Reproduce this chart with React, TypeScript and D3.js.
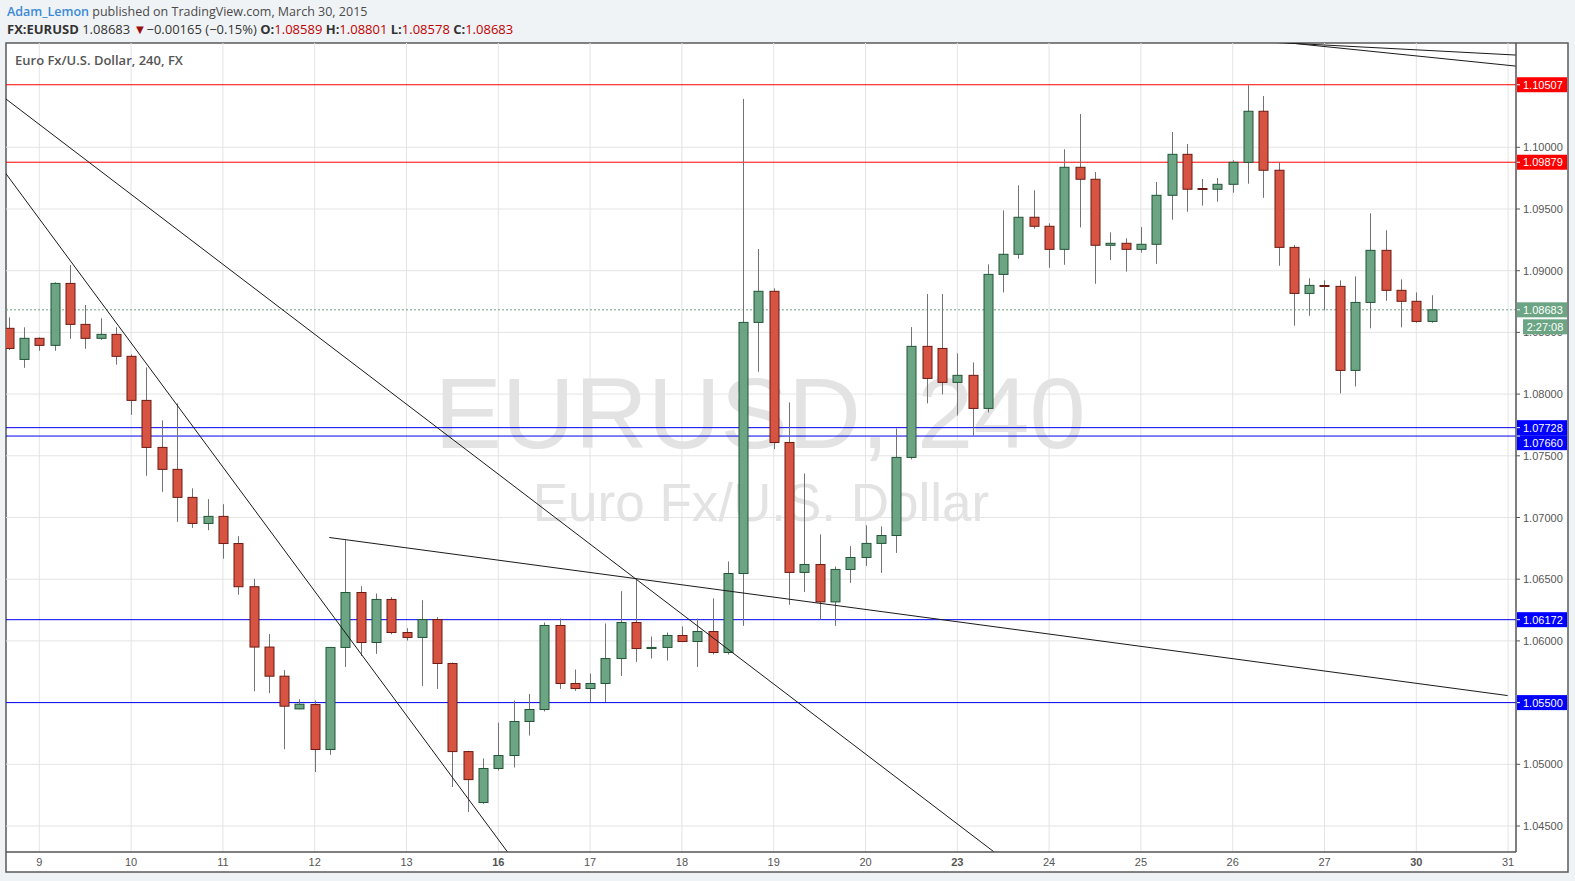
import React from 'react';
import * as d3 from 'd3';

// ---------- data ----------
const dayLabels = ['9', '10', '11', '12', '13', '16', '17', '18', '19', '20', '23', '24', '25', '26', '27', '30', '31'];
const weekStartLabels = ['16', '23', '30'];
const firstDayBar = 2;
const barsPerDay = 6;

const opens = [
  1.08533, 1.08281, 1.08452, 1.08395, 1.08897, 1.08565, 1.08452, 1.08484, 1.08306, 1.07949,
  1.07568, 1.07390, 1.07163, 1.06952, 1.07009, 1.06789, 1.06439, 1.05950, 1.05714, 1.05449,
  1.05484, 1.05120, 1.05947, 1.06392, 1.05987, 1.06336, 1.06068, 1.06028, 1.06173, 1.05817,
  1.05103, 1.04690, 1.04966, 1.05071, 1.05347, 1.05444, 1.06125, 1.05655, 1.05614, 1.05655,
  1.05857, 1.06149, 1.05938, 1.05947, 1.06044, 1.05995, 1.06076, 1.05906, 1.06546, 1.08581,
  1.08833, 1.07608, 1.06555, 1.06619, 1.06316, 1.06579, 1.06676, 1.06790, 1.06854, 1.07487,
  1.08387, 1.08370, 1.08095, 1.08152, 1.07884, 1.08970, 1.09133, 1.09433, 1.09360, 1.09173,
  1.09838, 1.09741, 1.09206, 1.09222, 1.09173, 1.09214, 1.09611, 1.09943, 1.09666, 1.09660,
  1.09700, 1.09878, 1.10292, 1.09814, 1.09189, 1.08816, 1.08880, 1.08873, 1.08192, 1.08743,
  1.09165, 1.08841, 1.08752, 1.08589,
];
const highs = [
  1.08622, 1.08541, 1.08460, 1.08906, 1.09046, 1.08722, 1.08614, 1.08541, 1.08322, 1.08216,
  1.07787, 1.07925, 1.07236, 1.07149, 1.07108, 1.06849, 1.06503, 1.06056, 1.05763, 1.05527,
  1.05517, 1.05951, 1.06816, 1.06443, 1.06384, 1.06354, 1.06103, 1.06330, 1.06192, 1.05825,
  1.05110, 1.05047, 1.05338, 1.05517, 1.05570, 1.06149, 1.06182, 1.05768, 1.05736, 1.06141,
  1.06403, 1.06506, 1.06036, 1.06068, 1.06117, 1.06182, 1.06344, 1.06644, 1.10392, 1.09176,
  1.08857, 1.07933, 1.07357, 1.06863, 1.06603, 1.06768, 1.06936, 1.06927, 1.07722, 1.08543,
  1.08811, 1.08811, 1.08330, 1.08257, 1.09051, 1.09489, 1.09692, 1.09651, 1.09384, 1.09984,
  1.10270, 1.09800, 1.09311, 1.09262, 1.09354, 1.09719, 1.10124, 1.10027, 1.09743, 1.09751,
  1.09895, 1.10503, 1.10416, 1.09878, 1.09208, 1.08938, 1.08922, 1.08922, 1.08954, 1.09465,
  1.09327, 1.08930, 1.08824, 1.08801,
];
const lows = [
  1.08357, 1.08213, 1.08351, 1.08351, 1.08448, 1.08367, 1.08440, 1.08238, 1.07832, 1.07338,
  1.07208, 1.06965, 1.06916, 1.06897, 1.06666, 1.06374, 1.05592, 1.05576, 1.05122, 1.05446,
  1.04938, 1.05076, 1.05789, 1.05878, 1.05895, 1.06054, 1.06003, 1.05635, 1.05611, 1.04816,
  1.04614, 1.04680, 1.04949, 1.04974, 1.05233, 1.05428, 1.05611, 1.05595, 1.05505, 1.05505,
  1.05716, 1.05830, 1.05857, 1.05841, 1.05990, 1.05789, 1.05890, 1.05890, 1.06122, 1.08181,
  1.07554, 1.06292, 1.06397, 1.06173, 1.06122, 1.06470, 1.06608, 1.06551, 1.06713, 1.07471,
  1.07925, 1.07998, 1.07827, 1.07665, 1.07852, 1.08824, 1.09097, 1.09340, 1.09024, 1.09048,
  1.09351, 1.08894, 1.09086, 1.08992, 1.09146, 1.09056, 1.09413, 1.09478, 1.09527, 1.09559,
  1.09632, 1.09705, 1.09591, 1.09040, 1.08554, 1.08635, 1.08679, 1.08006, 1.08062, 1.08533,
  1.08756, 1.08541, 1.08578, 1.08578,
];
const closes = [
  1.08370, 1.08452, 1.08395, 1.08897, 1.08565, 1.08452, 1.08484, 1.08306, 1.07949, 1.07568,
  1.07390, 1.07163, 1.06952, 1.07009, 1.06789, 1.06439, 1.05950, 1.05714, 1.05471, 1.05487,
  1.05120, 1.05947, 1.06392, 1.05987, 1.06336, 1.06068, 1.06028, 1.06173, 1.05817, 1.05103,
  1.04876, 1.04966, 1.05071, 1.05347, 1.05444, 1.06125, 1.05655, 1.05614, 1.05655, 1.05857,
  1.06149, 1.05938, 1.05947, 1.06044, 1.05995, 1.06076, 1.05906, 1.06546, 1.08581, 1.08833,
  1.07608, 1.06555, 1.06619, 1.06316, 1.06579, 1.06676, 1.06790, 1.06854, 1.07487, 1.08387,
  1.08127, 1.08095, 1.08152, 1.07884, 1.08970, 1.09133, 1.09433, 1.09360, 1.09173, 1.09838,
  1.09741, 1.09206, 1.09222, 1.09173, 1.09214, 1.09611, 1.09943, 1.09660, 1.09658, 1.09700,
  1.09878, 1.10292, 1.09814, 1.09189, 1.08816, 1.08881, 1.08872, 1.08192, 1.08743, 1.09165,
  1.08841, 1.08752, 1.08589, 1.08683,
];

const priceTicks = [1.045, 1.05, 1.055, 1.06, 1.065, 1.07, 1.075, 1.08, 1.085, 1.09, 1.095, 1.1];
const redLevels = [1.10507, 1.09879];
const blueLevels = [1.07728, 1.0766, 1.06172, 1.055];
const lastPrice = 1.08683;
const countdown = '2:27:08';

// trend lines as (bar index, price) anchors
const trendFrom = [[-0.09, 1.10383], [3.03, 1.09248], [20.95, 1.06838], [84.4, 1.10837], [85.5, 1.10832]];
const trendTo = [[48.45, 1.05797], [31.02, 1.04555], [97.97, 1.05557], [98.43, 1.10659], [98.43, 1.10748]];
const trendExtend = [true, true, false, true, true];

// ---------- layout ----------
const W = 1575;
const H = 881;
const frame = { left: 6, top: 43, right: 1568, bottom: 872 };
const plot = { left: 6, top: 43, right: 1516, bottom: 852 };

const GREEN = '#6ba583';
const GREEN_EDGE = '#225437';
const RED = '#d75442';
const RED_EDGE = '#6b1b12';
const WICK = '#737375';
const GRID = '#e4e4e4';
const AXIS_TEXT = '#555';
const UI_FONT = "'Open Sans', 'Noto Sans', sans-serif";
const AXIS_FONT = "'Liberation Sans', Arial, sans-serif";

export default function App() {
  const x = d3.scaleLinear().domain([2, 98]).range([39.3, 1508.1]);
  const y = d3.scaleLinear().domain([1.045, 1.1]).range([826, 147.3]);

  const bars = d3.range(opens.length).map((i) => ({
    i,
    o: opens[i],
    h: highs[i],
    l: lows[i],
    c: closes[i],
  }));

  const dayX = dayLabels.map((d, k) => x(firstDayBar + k * barsPerDay));

  // price label boxes with simple collision stacking
  type Lab = { p: number; fill: string; extra?: string; cy?: number };
  const labs: Lab[] = [
    ...redLevels.map((p) => ({ p, fill: '#ff0000' })),
    { p: lastPrice, fill: GREEN, extra: countdown },
    ...blueLevels.map((p) => ({ p, fill: '#0000ff' })),
  ].sort((a, b) => b.p - a.p);
  let prevBottom = -Infinity;
  labs.forEach((l) => {
    let cy = y(l.p);
    if (cy - 7.5 < prevBottom) cy = prevBottom + 7.5;
    l.cy = cy;
    prevBottom = cy + 7.5 + (l.extra ? 16 : 0);
  });

  const trendSegs = trendFrom.map((f, k) => {
    const t = trendTo[k];
    let x1 = x(f[0]);
    let y1 = y(f[1]);
    let x2 = x(t[0]);
    let y2 = y(t[1]);
    if (trendExtend[k]) {
      const m = (y2 - y1) / (x2 - x1);
      const nx1 = plot.left - 5;
      const nx2 = plot.right + 5;
      const ny1 = y1 + m * (nx1 - x1);
      const ny2 = y1 + m * (nx2 - x1);
      x1 = nx1; y1 = ny1; x2 = nx2; y2 = ny2;
    }
    return { x1, y1, x2, y2 };
  });

  const bodyW = 9;

  return (
    <svg
      width={W}
      height={H}
      style={{ position: 'absolute', left: 0, top: 0, display: 'block' }}
      xmlns="http://www.w3.org/2000/svg"
    >
      <defs>
        <clipPath id="plotClip">
          <rect x={plot.left} y={plot.top} width={plot.right - plot.left} height={plot.bottom - plot.top} />
        </clipPath>
      </defs>
      <rect x={0} y={0} width={W} height={H} fill="#f0f3f6" />

      {/* header */}
      <text x={7} y={16} fontFamily={UI_FONT} fontSize={12.5} fill="#4a4a4a">
        <tspan fill="#3a8ad6" fontWeight={600}>Adam_Lemon</tspan>
        <tspan> published on TradingView.com, March 30, 2015</tspan>
      </text>
      <text x={7} y={34} fontFamily={UI_FONT} fontSize={13} fill="#333">
        <tspan fontWeight={700}>FX:EURUSD</tspan>
        <tspan> 1.08683 </tspan>
        <tspan fill="#9b0d0d">▼</tspan>
        <tspan>−0.00165 (−0.15%) </tspan>
        <tspan fontWeight={700}>O:</tspan>
        <tspan fill="#c00000">1.08589 </tspan>
        <tspan fontWeight={700}>H:</tspan>
        <tspan fill="#c00000">1.08801 </tspan>
        <tspan fontWeight={700}>L:</tspan>
        <tspan fill="#c00000">1.08578 </tspan>
        <tspan fontWeight={700}>C:</tspan>
        <tspan fill="#c00000">1.08683</tspan>
      </text>

      {/* frame */}
      <rect
        x={frame.left}
        y={frame.top}
        width={frame.right - frame.left}
        height={frame.bottom - frame.top}
        fill="#ffffff"
        stroke="#5a5a5a"
        strokeWidth={1.5}
      />

      {/* grid */}
      <g>
        {priceTicks.map((p) => (
          <line key={'h' + p} x1={plot.left} x2={plot.right} y1={y(p)} y2={y(p)} stroke={GRID} strokeWidth={1} />
        ))}
        {dayX.map((dx, k) => (
          <line key={'v' + k} x1={dx} x2={dx} y1={plot.top} y2={plot.bottom} stroke={GRID} strokeWidth={1} />
        ))}
      </g>

      {/* watermark */}
      <g fontFamily={AXIS_FONT} fill="#e3e3e3" textAnchor="middle">
        <text x={760} y={448} fontSize={101}>EURUSD, 240</text>
        <text x={761} y={521} fontSize={53}>Euro Fx/U.S. Dollar</text>
      </g>

      <g clipPath="url(#plotClip)">
        {/* level lines */}
        {redLevels.map((p) => (
          <line key={'r' + p} x1={plot.left} x2={plot.right} y1={y(p)} y2={y(p)} stroke="#ff0000" strokeWidth={1} />
        ))}
        {blueLevels.map((p) => (
          <line key={'b' + p} x1={plot.left} x2={plot.right} y1={y(p)} y2={y(p)} stroke="#0000ee" strokeWidth={1} />
        ))}
        <line
          x1={plot.left}
          x2={plot.right}
          y1={y(lastPrice)}
          y2={y(lastPrice)}
          stroke={GREEN}
          strokeWidth={1}
          strokeDasharray="2,2"
        />

        {/* candles */}
        {bars.map((b) => {
          const cx = Math.round(x(b.i)) + 0.5;
          const up = b.c >= b.o;
          const top = y(Math.max(b.o, b.c));
          const bot = y(Math.min(b.o, b.c));
          const hgt = Math.max(1, bot - top);
          return (
            <g key={b.i}>
              <line x1={cx} x2={cx} y1={y(b.h)} y2={y(b.l)} stroke={WICK} strokeWidth={1} />
              <rect
                x={cx - bodyW / 2}
                y={top}
                width={bodyW}
                height={hgt}
                fill={up ? GREEN : RED}
                stroke={up ? GREEN_EDGE : RED_EDGE}
                strokeWidth={1}
              />
            </g>
          );
        })}

        {/* trend lines */}
        {trendSegs.map((s, k) => (
          <line key={'t' + k} x1={s.x1} y1={s.y1} x2={s.x2} y2={s.y2} stroke="#1a1a1a" strokeWidth={1} />
        ))}
      </g>

      {/* chart title */}
      <text x={15} y={65} fontFamily={UI_FONT} fontSize={13} fontWeight={600} fill="#555">
        Euro Fx/U.S. Dollar, 240, FX
      </text>

      {/* axes lines */}
      <line x1={plot.right} x2={plot.right} y1={plot.top} y2={plot.bottom} stroke="#555" strokeWidth={1.5} />
      <line x1={plot.left} x2={plot.right} y1={plot.bottom} y2={plot.bottom} stroke="#555" strokeWidth={1.5} />

      {/* price axis */}
      <g fontFamily={AXIS_FONT} fontSize={11} fill={AXIS_TEXT}>
        {priceTicks.map((p) => (
          <g key={'pt' + p}>
            <line x1={plot.right} x2={plot.right + 4} y1={y(p)} y2={y(p)} stroke="#555" strokeWidth={1} />
            <text x={plot.right + 7} y={y(p) + 4}>{p.toFixed(5)}</text>
          </g>
        ))}
      </g>

      {/* price label boxes */}
      <g fontFamily={AXIS_FONT} fontSize={11}>
        {labs.map((l) => (
          <g key={'lb' + l.p}>
            <rect x={plot.right + 1} y={(l.cy as number) - 7.5} width={50} height={15} fill={l.fill} />
            <line
              x1={plot.right + 1}
              x2={plot.right + 4}
              y1={y(l.p)}
              y2={y(l.p)}
              stroke="#ffffff"
              strokeWidth={1}
            />
            <text x={plot.right + 7} y={(l.cy as number) + 4} fill="#ffffff">
              {l.p.toFixed(5)}
            </text>
            {l.extra && (
              <g>
                <rect x={plot.right + 7} y={(l.cy as number) + 9.5} width={44} height={15} fill={l.fill} />
                <text x={plot.right + 29} y={(l.cy as number) + 21} fill="#ffffff" textAnchor="middle">
                  {l.extra}
                </text>
              </g>
            )}
          </g>
        ))}
      </g>

      {/* time axis */}
      <g fontFamily={AXIS_FONT} fontSize={11} fill={AXIS_TEXT} textAnchor="middle">
        {dayLabels.map((d, k) => (
          <text
            key={'d' + k}
            x={dayX[k]}
            y={866}
            fontWeight={weekStartLabels.includes(d) ? 700 : 400}
          >
            {d}
          </text>
        ))}
      </g>
    </svg>
  );
}
